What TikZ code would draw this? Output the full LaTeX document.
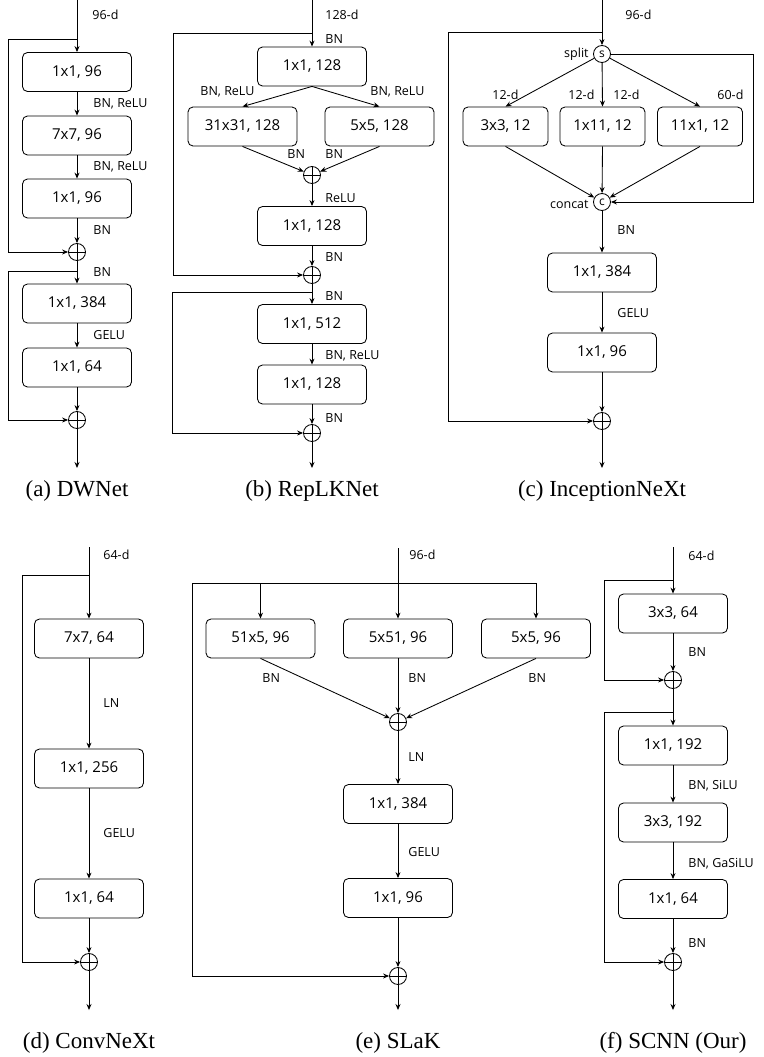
\documentclass[tikz,border=0pt]{standalone}
\usepackage{fontspec}
\setmainfont{Liberation Serif}
\newfontfamily\boxfont{Open Sans}
\usetikzlibrary{arrows.meta}

\begin{document}
\begin{tikzpicture}[x=1pt,y=-1pt,line width=0.85pt,
    blk/.style={draw,rounded corners=5pt,minimum width=109pt,minimum height=39pt,inner sep=0pt,font=\boxfont\fontsize{15}{18}\selectfont},
    sblk/.style={blk,minimum width=85pt},
    lbl/.style={anchor=west,inner sep=0pt,font=\boxfont\fontsize{12.5}{15}\selectfont},
    addop/.style={draw,circle,minimum size=17pt,inner sep=0pt,
      path picture={\draw (path picture bounding box.north) -- (path picture bounding box.south)
        (path picture bounding box.west) -- (path picture bounding box.east);}},
    opc/.style={draw,circle,minimum size=17pt,inner sep=0pt,font=\boxfont\fontsize{12}{14}\selectfont},
    captxt/.style={font=\fontsize{23}{27}\selectfont},
    arr/.style={-{Stealth[length=6pt,width=5pt,inset=2pt]}}]
  \useasboundingbox (0,0) rectangle (763,1057);

  % (a) DWNet
  \coordinate (ain) at (77,0);
  \coordinate (askip1) at (77,39);
  \coordinate (askip2) at (77,271);
  \coordinate (aout) at (77,468);
  \node[blk] (a1) at (77,72) {1x1, 96};
  \node[blk] (a2) at (77,135.5) {7x7, 96};
  \node[blk] (a3) at (77,198.5) {1x1, 96};
  \node[addop] (pa1) at (77,252) {};
  \node[blk] (a4) at (77,303.5) {1x1, 384};
  \node[blk] (a5) at (77,367.5) {1x1, 64};
  \node[addop] (pa2) at (77,420) {};
  \draw[arr] (ain) -- (a1);
  \draw[arr] (a1) -- (a2);
  \draw[arr] (a2) -- (a3);
  \draw[arr] (a3) -- (pa1);
  \draw[arr] (pa1) -- (a4);
  \draw[arr] (a4) -- (a5);
  \draw[arr] (a5) -- (pa2);
  \draw[arr] (pa2) -- (aout);
  \draw[arr] (askip1) -- ++(-69,0) |- (pa1);
  \draw[arr] (askip2) -- ++(-69,0) |- (pa2);
  \node[lbl] (la0) at (92,15) {96-d};
  \node[lbl] (la1) at (93,104) {BN, ReLU};
  \node[lbl] (la2) at (93,167) {BN, ReLU};
  \node[lbl] (la3) at (93,230) {BN};
  \node[lbl] (la4) at (93,272) {BN};
  \node[lbl] (la5) at (93,335) {GELU};
  \node[captxt] (capa) at (77,491) {(a) DWNet};

  % (b) RepLKNet
  \coordinate (bin) at (312,0);
  \coordinate (bskip1) at (312,33);
  \coordinate (bskip2) at (312,292);
  \coordinate (bout) at (312,468);
  \node[blk] (b1) at (312,66.5) {1x1, 128};
  \node[blk] (b2) at (242.5,126.5) {31x31, 128};
  \node[blk] (b3) at (379.5,126.5) {5x5, 128};
  \node[addop] (pb1) at (312,175) {};
  \node[blk] (b4) at (312,226) {1x1, 128};
  \node[addop] (pb2) at (312,275) {};
  \node[blk] (b5) at (312,324) {1x1, 512};
  \node[blk] (b6) at (312,384.5) {1x1, 128};
  \node[addop] (pb3) at (312,433) {};
  \draw[arr] (bin) -- (b1);
  \draw[arr] (b1.south) -- (b2.north);
  \draw[arr] (b1.south) -- (b3.north);
  \draw[arr] (b2.south) -- (pb1);
  \draw[arr] (b3.south) -- (pb1);
  \draw[arr] (pb1) -- (b4);
  \draw[arr] (b4) -- (pb2);
  \draw[arr] (pb2) -- (b5);
  \draw[arr] (b5) -- (b6);
  \draw[arr] (b6) -- (pb3);
  \draw[arr] (pb3) -- (bout);
  \draw[arr] (bskip1) -- ++(-139,0) |- (pb2);
  \draw[arr] (bskip2) -- ++(-140,0) |- (pb3);
  \node[lbl] (lb0) at (325,15) {128-d};
  \node[lbl] (lb1) at (325,39) {BN};
  \node[lbl] (lb2) at (200,92) {BN, ReLU};
  \node[lbl] (lb3) at (370,92) {BN, ReLU};
  \node[lbl] (lb4) at (287,154) {BN};
  \node[lbl] (lb5) at (325,154) {BN};
  \node[lbl] (lb6) at (325,198) {ReLU};
  \node[lbl] (lb7) at (325,257) {BN};
  \node[lbl] (lb8) at (325,296) {BN};
  \node[lbl] (lb9) at (325,356) {BN, ReLU};
  \node[lbl] (lb10) at (325,418) {BN};
  \node[captxt] (capb) at (312,491) {(b) RepLKNet};

  % (c) InceptionNeXt
  \coordinate (cin) at (602,0);
  \coordinate (cskip) at (602,32);
  \coordinate (cout) at (602,468);
  \node[opc] (cs) at (602,54) {s};
  \node[sblk] (c1) at (505.5,126.5) {3x3, 12};
  \node[sblk] (c2) at (602.5,126.5) {1x11, 12};
  \node[sblk] (c3) at (700,126.5) {11x1, 12};
  \node[opc] (cc) at (602,202) {c};
  \node[blk] (c4) at (602,272.5) {1x1, 384};
  \node[blk] (c5) at (602,352.5) {1x1, 96};
  \node[addop] (pc1) at (602,421) {};
  \draw[arr] (cin) -- (cs);
  \draw[arr] (cs) -- (c1.north);
  \draw[arr] (cs) -- (c2.north);
  \draw[arr] (cs) -- (c3.north);
  \draw[arr] (c1.south) -- (cc);
  \draw[arr] (c2.south) -- (cc);
  \draw[arr] (c3.south) -- (cc);
  \draw[arr] (cs.east) -- ++(142.5,0) |- (cc);
  \draw[arr] (cc) -- (c4);
  \draw[arr] (c4) -- (c5);
  \draw[arr] (c5) -- (pc1);
  \draw[arr] (pc1) -- (cout);
  \draw[arr] (cskip) -- ++(-154,0) |- (pc1);
  \node[lbl] (lc0) at (625,15) {96-d};
  \node[lbl,anchor=east] (lc1) at (589,54) {split};
  \node[lbl] (lc2) at (492,95) {12-d};
  \node[lbl] (lc3) at (568,95) {12-d};
  \node[lbl] (lc4) at (613,95) {12-d};
  \node[lbl] (lc5) at (717,95) {60-d};
  \node[lbl,anchor=east] (lc6) at (589,204) {concat};
  \node[lbl] (lc7) at (617,230) {BN};
  \node[lbl] (lc8) at (617,313) {GELU};
  \node[captxt] (capc) at (602,491) {(c) InceptionNeXt};

  % (d) ConvNeXt
  \coordinate (din) at (89,547);
  \coordinate (dskip) at (89,575);
  \coordinate (dout) at (89,1010);
  \node[blk] (d1) at (89,638.5) {7x7, 64};
  \node[blk] (d2) at (89,768.5) {1x1, 256};
  \node[blk] (d3) at (89,898.5) {1x1, 64};
  \node[addop] (pd1) at (89,962) {};
  \draw[arr] (din) -- (d1);
  \draw[arr] (d1) -- (d2);
  \draw[arr] (d2) -- (d3);
  \draw[arr] (d3) -- (pd1);
  \draw[arr] (pd1) -- (dout);
  \draw[arr] (dskip) -- ++(-67,0) |- (pd1);
  \node[lbl] (ld0) at (103,555) {64-d};
  \node[lbl] (ld1) at (103,703) {LN};
  \node[lbl] (ld2) at (103,833) {GELU};
  \node[captxt] (capd) at (89,1043) {(d) ConvNeXt};

  % (e) SLaK
  \coordinate (ein) at (398,548);
  \coordinate (eb) at (398,583);
  \coordinate (eout) at (398,1010);
  \node[blk] (e1) at (260.5,638.5) {51x5, 96};
  \node[blk] (e2) at (398,638.5) {5x51, 96};
  \node[blk] (e3) at (536,638.5) {5x5, 96};
  \node[addop] (pe1) at (398,722) {};
  \node[blk] (e4) at (398,804) {1x1, 384};
  \node[blk] (e5) at (398,898) {1x1, 96};
  \node[addop] (pe2) at (398,976) {};
  \draw[arr] (ein) -- (e2);
  \draw[arr] (eb) -| (e1);
  \draw[arr] (eb) -| (e3);
  \draw[arr] (e1.south) -- (pe1);
  \draw[arr] (e2.south) -- (pe1);
  \draw[arr] (e3.south) -- (pe1);
  \draw[arr] (pe1) -- (e4);
  \draw[arr] (e4) -- (e5);
  \draw[arr] (e5) -- (pe2);
  \draw[arr] (pe2) -- (eout);
  \draw[arr] (eb) -- ++(-206,0) |- (pe2);
  \node[lbl] (le0) at (409,555) {96-d};
  \node[lbl] (le1) at (262,678) {BN};
  \node[lbl] (le2) at (408,678) {BN};
  \node[lbl] (le3) at (528,678) {BN};
  \node[lbl] (le4) at (408,757) {LN};
  \node[lbl] (le5) at (408,852) {GELU};
  \node[captxt] (cape) at (398,1043) {(e) SLaK};

  % (f) SCNN
  \coordinate (fin) at (673,547);
  \coordinate (fskip1) at (673,580);
  \coordinate (fskip2) at (673,712);
  \coordinate (fout) at (673,1010);
  \node[blk] (f1) at (673,613.5) {3x3, 64};
  \node[addop] (pf1) at (673,680) {};
  \node[blk] (f2) at (673,745.5) {1x1, 192};
  \node[blk] (f3) at (673,822.5) {3x3, 192};
  \node[blk] (f4) at (673,899) {1x1, 64};
  \node[addop] (pf2) at (673,962) {};
  \draw[arr] (fin) -- (f1);
  \draw[arr] (f1) -- (pf1);
  \draw[arr] (pf1) -- (f2);
  \draw[arr] (f2) -- (f3);
  \draw[arr] (f3) -- (f4);
  \draw[arr] (f4) -- (pf2);
  \draw[arr] (pf2) -- (fout);
  \draw[arr] (fskip1) -- ++(-69,0) |- (pf1);
  \draw[arr] (fskip2) -- ++(-69,0) |- (pf2);
  \node[lbl] (lf0) at (688,556) {64-d};
  \node[lbl] (lf1) at (688,652) {BN};
  \node[lbl] (lf2) at (688,786) {BN, SiLU};
  \node[lbl] (lf3) at (688,864) {BN, GaSiLU};
  \node[lbl] (lf4) at (688,943) {BN};
  \node[captxt] (capf) at (673,1043) {(f) SCNN (Our)};
\end{tikzpicture}
\end{document}
